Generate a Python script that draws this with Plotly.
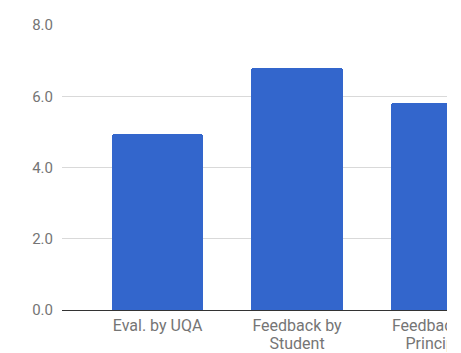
import plotly.graph_objects as go

categories = ["Eval. by UQA", "Feedback by Student", "Feedback by Principal"]
label_line1 = ["Eval. by UQA", "Feedback by", "Feedback by"]
label_line2 = ["", "Student", "Principal"]
values = [4.94, 6.80, 5.82]
y_ticks = [0, 2, 4, 6, 8]
y_tick_labels = ["0.0", "2.0", "4.0", "6.0", "8.0"]

pos = list(range(len(categories)))

fig = go.Figure()
fig.add_trace(
    go.Bar(
        x=pos,
        y=values,
        width=0.656,
        name="Score",
        marker=dict(color="#3366cc", cornerradius=3, line=dict(width=0)),
        xaxis="x",
    )
)
# invisible helper trace so the second-line label axis is drawn
fig.add_trace(
    go.Scatter(x=pos, y=values, mode="markers", marker=dict(opacity=0),
               xaxis="x2", hoverinfo="skip", showlegend=False)
)

x_range = [-0.685, 2.075]
tickfont = dict(family="Roboto", size=16, color="#757575")

fig.update_layout(
    width=461,
    height=353,
    margin=dict(l=62, r=14, t=25, b=43),
    paper_bgcolor="white",
    plot_bgcolor="white",
    showlegend=False,
    font=dict(family="Roboto", size=15, color="#757575"),
    bargap=0,
    xaxis=dict(
        range=x_range,
        tickmode="array",
        tickvals=pos,
        ticktext=label_line1,
        tickfont=tickfont,
        showgrid=False,
        showline=True,
        linecolor="#333333",
        linewidth=1,
        ticks="",
        zeroline=False,
        automargin=False,
        ticklabeloverflow="allow",
        ticklabelstandoff=1,
    ),
    xaxis2=dict(
        range=x_range,
        overlaying="x",
        side="bottom",
        anchor="y",
        tickmode="array",
        tickvals=pos,
        ticktext=label_line2,
        tickfont=tickfont,
        showgrid=False,
        showline=False,
        ticks="",
        zeroline=False,
        automargin=False,
        ticklabeloverflow="allow",
        ticklabelstandoff=22,
    ),
    yaxis=dict(
        range=[0, 8],
        tickmode="array",
        tickvals=y_ticks,
        ticktext=y_tick_labels,
        showgrid=True,
        gridcolor="#d9d9d9",
        gridwidth=1,
        zeroline=False,
        ticks="",
        ticklabelstandoff=8,
        automargin=False,
    ),
    shapes=[
        dict(
            type="rect", xref="paper", yref="paper",
            x0=1, x1=1.2, y0=-0.3, y1=1.1,
            fillcolor="white", line=dict(width=0), layer="above",
        )
    ],
)

fig.write_html("out.html")
